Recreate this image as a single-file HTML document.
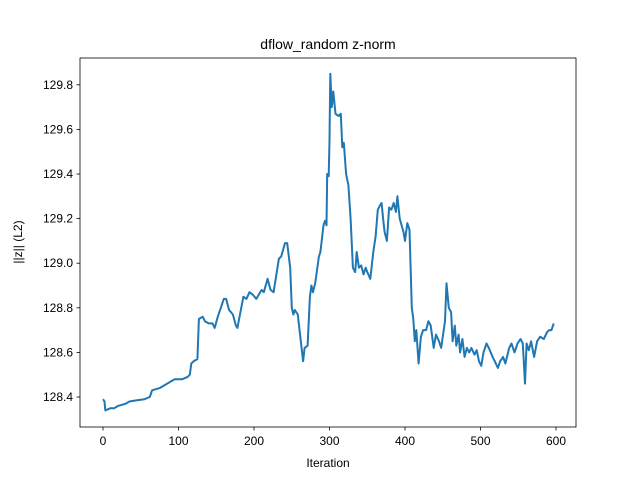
<!DOCTYPE html>
<html><head><meta charset="utf-8"><style>
body{margin:0;background:#fff;font-family:"Liberation Sans","DejaVu Sans",sans-serif}
</style></head><body>
<svg id="chart" width="640" height="480" xmlns="http://www.w3.org/2000/svg">
<rect width="640" height="480" fill="#fff"/>
<text x="328" y="49" text-anchor="middle" font-size="14">dflow_random z-norm</text>
<g id="axes"></g>
<path id="line" fill="none" stroke="#1f77b4" stroke-width="2" stroke-linejoin="round"/>
<rect x="80" y="58" width="496" height="369" fill="none" stroke="#000" stroke-width="0.8"/>
<text x="328" y="467" text-anchor="middle" font-size="12">Iteration</text>
<text transform="translate(22,242) rotate(-90)" text-anchor="middle" font-size="12">||z|| (L2)</text>
</svg>
<script>
const iters=[0,2,3,10,15,20,25,30,35,45,55,62,65,75,85,95,105,112,115,117,120,125,127,132,135,140,145,148,152,160,163,167,172,176,178,182,186,190,194,198,203,210,213,218,222,226,233,236,241,244,248,250,252,254,258,262,265,267,271,274,276,278,281,286,288,292,294,296,297,299,300,301,303,305,308,312,315,317,319,322,325,328,331,334,336,339,342,345,348,350,354,358,361,364,367,369,371,373,376,379,382,385,388,390,393,398,400,403,406,409,411,413,415,418,421,424,428,431,434,438,441,445,448,453,455,458,461,463,466,468,471,473,476,479,482,485,488,492,495,498,501,504,508,511,516,519,523,526,530,533,538,541,545,549,553,556,559,561,564,567,571,575,579,584,588,591,594,597];
const values=[128.39,128.38,128.34,128.35,128.35,128.36,128.365,128.37,128.38,128.385,128.39,128.40,128.43,128.44,128.46,128.48,128.48,128.49,128.50,128.55,128.56,128.57,128.75,128.76,128.74,128.73,128.73,128.71,128.76,128.84,128.84,128.79,128.77,128.72,128.71,128.78,128.85,128.84,128.87,128.86,128.84,128.88,128.87,128.93,128.88,128.87,129.02,129.03,129.09,129.09,128.98,128.80,128.77,128.79,128.77,128.65,128.56,128.62,128.63,128.85,128.90,128.87,128.91,129.03,129.05,129.17,129.19,129.17,129.40,129.39,129.55,129.85,129.70,129.77,129.67,129.66,129.67,129.52,129.54,129.40,129.35,129.20,128.98,128.96,129.05,128.98,128.99,128.95,128.98,128.96,128.93,129.05,129.12,129.24,129.26,129.27,129.20,129.14,129.10,129.25,129.24,129.27,129.23,129.30,129.20,129.14,129.10,129.18,129.15,128.80,128.75,128.65,128.70,128.55,128.67,128.70,128.70,128.74,128.72,128.62,128.68,128.65,128.62,128.74,128.91,128.80,128.78,128.65,128.72,128.63,128.68,128.60,128.66,128.58,128.62,128.60,128.62,128.59,128.61,128.56,128.54,128.60,128.64,128.62,128.58,128.56,128.53,128.56,128.58,128.55,128.62,128.64,128.60,128.64,128.66,128.64,128.46,128.64,128.61,128.65,128.58,128.65,128.67,128.66,128.69,128.70,128.70,128.73,128.70,128.71];
const xTicks=[0,100,200,300,400,500,600];
const yTicks=[128.4,128.6,128.8,129.0,129.2,129.4,129.6,129.8];
const NS='http://www.w3.org/2000/svg';
const xs=v=>103+v*0.755;
const ys=v=>397-(v-128.4)*223;
const ax=document.getElementById('axes');
function mk(t,a){const e=document.createElementNS(NS,t);for(const k in a)e.setAttribute(k,a[k]);ax.appendChild(e);return e;}
xTicks.forEach(t=>{
 const l=mk('line',{x1:xs(t),x2:xs(t),y1:427,y2:430.5,stroke:'#000','stroke-width':0.8});
 
 
 const tx=mk('text',{x:xs(t),y:445,'text-anchor':'middle','font-size':12});
 tx.textContent=t;
 
 
});
yTicks.forEach(t=>{
 const l=mk('line',{x1:76.5,x2:80,y1:ys(t),y2:ys(t),stroke:'#000','stroke-width':0.8});
 
 
 const tx=mk('text',{x:73,y:ys(t)+4,'text-anchor':'end','font-size':12});
 tx.textContent=t.toFixed(1);
 
 
});
document.getElementById('line').setAttribute('d',iters.map((v,i)=>(i?'L':'M')+xs(v).toFixed(1)+','+ys(values[i]).toFixed(1)).join(''));
</script>
</body></html>
